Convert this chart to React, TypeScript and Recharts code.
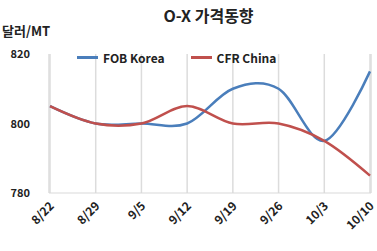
import { LineChart, Line, XAxis, YAxis, CartesianGrid, Legend } from 'recharts';

const dates = ['8/22', '8/29', '9/5', '9/12', '9/19', '9/26', '10/3', '10/10'];
const fobKorea = [805, 800, 800, 800, 810, 810, 795, 815];
const cfrChina = [805, 800, 800, 805, 800, 800, 795, 785];
const yTicks = [780, 800, 820];

const data = dates.map((d, i) => ({ date: d, fob: fobKorea[i], cfr: cfrChina[i] }));

const FONT = "'Noto Sans CJK KR', 'Noto Sans', sans-serif";
const BLUE = '#4a7ebb';
const RED = '#c0504d';

// Excel-style smoothed line (Catmull-Rom / cardinal with tension 0)
class SmoothCurve {
  _context: any;
  _k: number;
  _line = NaN;
  _point = 0;
  _x0 = NaN; _x1 = NaN; _x2 = NaN;
  _y0 = NaN; _y1 = NaN; _y2 = NaN;
  constructor(context: any) {
    this._context = context;
    this._k = 1 / 6;
  }
  areaStart() { this._line = 0; }
  areaEnd() { this._line = NaN; }
  lineStart() {
    this._x0 = this._x1 = this._x2 = this._y0 = this._y1 = this._y2 = NaN;
    this._point = 0;
  }
  lineEnd() {
    if (this._point === 2) this._context.lineTo(this._x2, this._y2);
    else if (this._point === 3) this.bez(this._x1, this._y1);
    if (this._line || (this._line !== 0 && this._point === 1)) this._context.closePath();
    this._line = 1 - this._line;
  }
  bez(x: number, y: number) {
    const k = this._k;
    this._context.bezierCurveTo(
      this._x1 + k * (this._x2 - this._x0),
      this._y1 + k * (this._y2 - this._y0),
      this._x2 + k * (this._x1 - x),
      this._y2 + k * (this._y1 - y),
      this._x2,
      this._y2
    );
  }
  point(x: number, y: number) {
    x = +x; y = +y;
    if (this._point === 0) {
      this._point = 1;
      if (this._line) this._context.lineTo(x, y);
      else this._context.moveTo(x, y);
    } else if (this._point === 1) {
      this._point = 2;
      this._x1 = x; this._y1 = y;
    } else {
      if (this._point === 2) this._point = 3;
      this.bez(x, y);
    }
    this._x0 = this._x1; this._x1 = this._x2; this._x2 = x;
    this._y0 = this._y1; this._y1 = this._y2; this._y2 = y;
  }
}

const smooth = (ctx: any) => new SmoothCurve(ctx);

function XTick({ x, y, payload }: any) {
  return (
    <g transform={`translate(${x + 2},${y + 11})`}>
      <text textAnchor="end" transform="rotate(-45)" fontSize={12} fontWeight="bold" fill="#222" fontFamily={FONT} dy={4}>
        {payload.value}
      </text>
    </g>
  );
}

function YTick({ x, y, payload }: any) {
  return (
    <text x={x - 17} y={y} dy={4} textAnchor="end" fontSize={11} fontWeight="bold" fill="#222" fontFamily={FONT}>
      {payload.value}
    </text>
  );
}

function LegendContent() {
  const items = [
    { name: 'FOB Korea', color: BLUE },
    { name: 'CFR China', color: RED },
  ];
  return (
    <div style={{ display: 'flex', alignItems: 'center', fontFamily: FONT, fontSize: 12, fontWeight: 'bold', color: '#222' }}>
      {items.map((it) => (
        <div key={it.name} style={{ display: 'flex', alignItems: 'center', marginRight: 26 }}>
          <div style={{ width: 21, height: 2.5, background: it.color, marginRight: 5 }} />
          <span>{it.name}</span>
        </div>
      ))}
    </div>
  );
}

export default function App() {
  return (
    <div style={{ position: 'absolute', left: 0, top: 0, width: 377, height: 251, background: '#fff', fontFamily: FONT }}>
      <div style={{ position: 'absolute', left: 0, width: 377, top: 3, textAlign: 'center', marginLeft: 20, fontSize: 16, fontWeight: 'bold', color: '#222' }}>
        O-X 가격동향
      </div>
      <div style={{ position: 'absolute', left: 2, top: 21, fontSize: 13, fontWeight: 'bold', color: '#222' }}>
        달러/MT
      </div>
      <LineChart width={377} height={251} data={data} margin={{ top: 54, right: 6, left: 0, bottom: 0 }}>
        <CartesianGrid horizontal={false} stroke="#dcdcdc" strokeWidth={1.5} />
        <XAxis
          dataKey="date"
          height={58}
          tick={<XTick />}
          tickLine={false}
          tickSize={0}
          tickMargin={0}
          axisLine={{ stroke: '#d9d9d9' }}
          padding={{ left: 1, right: 1 }}
          interval={0}
        />
        <YAxis
          width={49}
          domain={[780, 820]}
          ticks={yTicks}
          tick={<YTick />}
          tickLine={false}
          tickSize={0}
          axisLine={false}
        />
        <Legend
          layout="horizontal"
          verticalAlign="middle"
          align="center"
          content={<LegendContent />}
          wrapperStyle={{ top: 49, left: 77, width: 'auto' }}
        />
        <Line dataKey="fob" name="FOB Korea" type={smooth as any} stroke={BLUE} strokeWidth={2.5} dot={false} isAnimationActive={false} />
        <Line dataKey="cfr" name="CFR China" type={smooth as any} stroke={RED} strokeWidth={2.5} dot={false} isAnimationActive={false} />
      </LineChart>
    </div>
  );
}
